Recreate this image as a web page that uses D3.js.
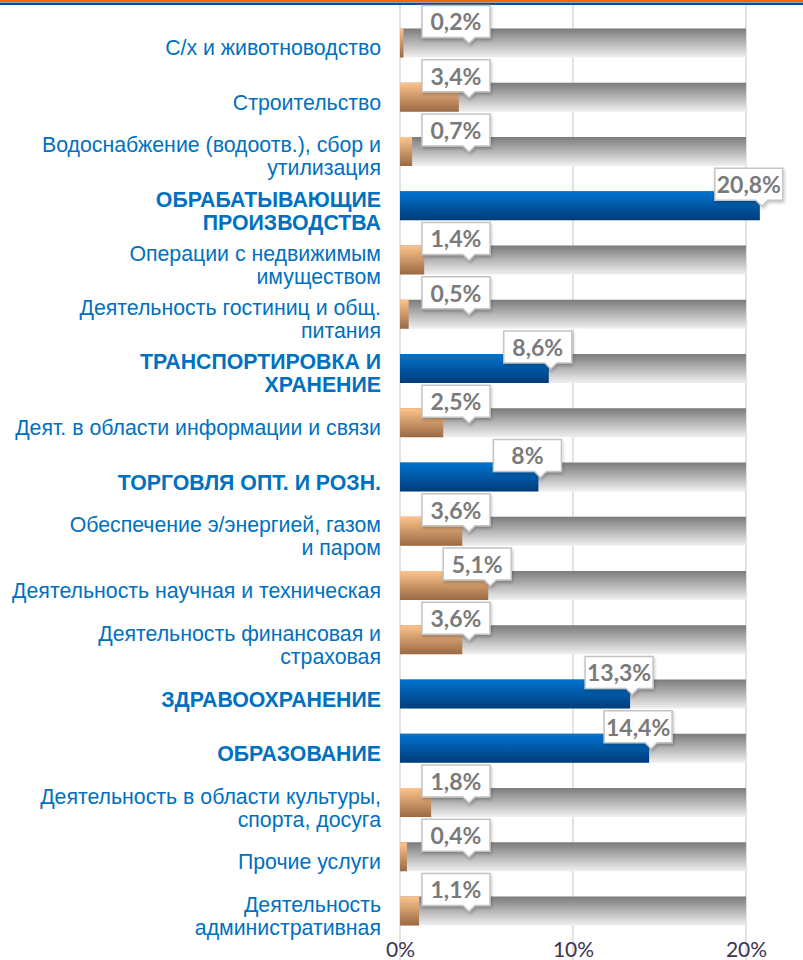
<!DOCTYPE html>
<html lang="ru">
<head>
<meta charset="utf-8">
<title>Структура по видам деятельности</title>
<script src="https://cdn.jsdelivr.net/npm/d3@7/dist/d3.min.js"></script>
<style>
  body { margin: 0; background: #fff; }
  svg { display: block; }
  .cat { font-family: "Liberation Sans", Arial, sans-serif; font-size: 21.3px; fill: #0070c0; }
  .cat.bold { font-weight: bold; }
  .lbl { font-family: Lato, "Open Sans", sans-serif; font-size: 23px; font-weight: bold; fill: #7a7a7a; }
  .tick text { font-family: Lato, "Open Sans", sans-serif; font-size: 21px; fill: #403152; }
</style>
</head>
<body>
<script>
// categories, top to bottom ("\n" = line break in the label)
var categories = [
  "С/х и животноводство",
  "Строительство",
  "Водоснабжение (водоотв.), сбор и\nутилизация",
  "ОБРАБАТЫВАЮЩИЕ\nПРОИЗВОДСТВА",
  "Операции с недвижимым\nимуществом",
  "Деятельность гостиниц и общ.\nпитания",
  "ТРАНСПОРТИРОВКА И\nХРАНЕНИЕ",
  "Деят. в области информации и связи",
  "ТОРГОВЛЯ ОПТ. И РОЗН.",
  "Обеспечение э/энергией, газом\nи паром",
  "Деятельность научная и техническая",
  "Деятельность финансовая и\nстраховая",
  "ЗДРАВООХРАНЕНИЕ",
  "ОБРАЗОВАНИЕ",
  "Деятельность в области культуры,\nспорта, досуга",
  "Прочие услуги",
  "Деятельность\nадминистративная"
];
// share, %
var values = [0.2, 3.4, 0.7, 20.8, 1.4, 0.5, 8.6, 2.5, 8, 3.6, 5.1, 3.6, 13.3, 14.4, 1.8, 0.4, 1.1];
// grey background series
var backgroundValues = [20, 20, 20, 20, 20, 20, 20, 20, 20, 20, 20, 20, 20, 20, 20, 20, 20];
// key industries shown in blue and bold
var highlighted = [false, false, false, true, false, false, true, false, true, false, false, false, true, true, false, false, false];
var xTicks = [0, 10, 20];

var w = 803, h = 960;

var svg = d3.select("body").append("svg")
  .attr("width", w)
  .attr("height", h);

var defs = svg.append("defs");
function grad(id, top, bottom) {
  var g = defs.append("linearGradient").attr("id", id)
    .attr("x1", 0).attr("y1", 0).attr("x2", 0).attr("y2", 1);
  g.append("stop").attr("offset", "0%").attr("stop-color", top);
  g.append("stop").attr("offset", "100%").attr("stop-color", bottom);
}
grad("gGrey", "#7b7b7b", "#f0f0f0");
grad("gOrange", "#fdc48c", "#9a6944");
grad("gBlue", "#0074cf", "#003c7a");

var shadow = defs.append("filter").attr("id", "shadow")
  .attr("x", "-20%").attr("y", "-20%").attr("width", "150%").attr("height", "160%");
shadow.append("feDropShadow")
  .attr("dx", 1).attr("dy", 2).attr("stdDeviation", 1.5)
  .attr("flood-color", "#000").attr("flood-opacity", 0.22);

//top stripe
svg.append("rect").attr("x", 0).attr("y", 0).attr("width", w).attr("height", 2).attr("fill", "#e46c0a");
svg.append("rect").attr("x", 0).attr("y", 2.5).attr("width", w).attr("height", 2.5).attr("fill", "#1f497d");

//scales
var x = d3.scaleLinear().domain([0, 20]).range([400, 746]);
var y = d3.scaleBand().domain(categories).range([16, 938]).paddingInner(0.465).paddingOuter(0.23);

//grid
svg.selectAll("line.grid")
  .data(xTicks)
  .enter().append("line")
  .attr("class", "grid")
  .attr("x1", function(d) { return x(d); })
  .attr("x2", function(d) { return x(d); })
  .attr("y1", 5)
  .attr("y2", h)
  .attr("stroke", "#d9d9d9")
  .attr("stroke-width", 1.5);

//grey background bars
svg.selectAll("rect.bg")
  .data(backgroundValues)
  .enter().append("rect")
  .attr("class", "bg")
  .attr("x", x(0))
  .attr("y", function(d, i) { return y(categories[i]); })
  .attr("width", function(d) { return x(d) - x(0); })
  .attr("height", y.bandwidth())
  .attr("fill", "url(#gGrey)");

//value bars
svg.selectAll("rect.val")
  .data(values)
  .enter().append("rect")
  .attr("class", "val")
  .attr("x", x(0))
  .attr("y", function(d, i) { return y(categories[i]); })
  .attr("width", function(d) { return x(d) - x(0); })
  .attr("height", y.bandwidth())
  .attr("fill", function(d, i) { return highlighted[i] ? "url(#gBlue)" : "url(#gOrange)"; });

//category labels
var cats = svg.selectAll("text.cat")
  .data(categories)
  .enter().append("text")
  .attr("class", function(d, i) { return highlighted[i] ? "cat bold" : "cat"; })
  .attr("text-anchor", "end");
cats.each(function(d) {
  var lines = d.split("\n");
  var cy = y(d) + y.bandwidth() / 2 + 5;
  var lh = 23;
  var t = d3.select(this);
  lines.forEach(function(line, k) {
    t.append("tspan")
      .attr("x", 381)
      .attr("y", cy + (k - (lines.length - 1) / 2) * lh + 7.5)
      .text(line);
  });
});

//axis
var xAxis = d3.axisBottom(x)
  .tickValues(xTicks)
  .tickFormat(function(d) { return d + "%"; })
  .tickSize(0)
  .tickPadding(4);
svg.append("g")
  .attr("class", "x axis")
  .attr("transform", "translate(0,938)")
  .call(xAxis)
  .call(function(g) { g.select(".domain").remove(); });

//callout labels
var bw = 68, bh = 32;
var callouts = svg.selectAll("g.callout")
  .data(values)
  .enter().append("g")
  .attr("class", "callout")
  .attr("transform", function(d, i) {
    var bx = Math.max(x(d) - 45, 422);
    var by = y(categories[i]) - 23;
    return "translate(" + bx + "," + by + ")";
  });
callouts.append("path")
  .attr("d", function() {
    var px = 47;
    return "M0,0H" + bw + "V" + bh + "H" + (px + 6) + "L" + px + "," + (bh + 6) +
      "L" + (px - 6) + "," + bh + "H0Z";
  })
  .attr("fill", "#fff")
  .attr("stroke", "#c4c4c4")
  .attr("stroke-width", 1.5)
  .attr("filter", "url(#shadow)");
callouts.append("text")
  .attr("class", "lbl")
  .attr("x", bw / 2)
  .attr("y", bh / 2 + 9)
  .attr("text-anchor", "middle")
  .text(function(d) { return String(d).replace(".", ",") + "%"; });
</script>
</body>
</html>
